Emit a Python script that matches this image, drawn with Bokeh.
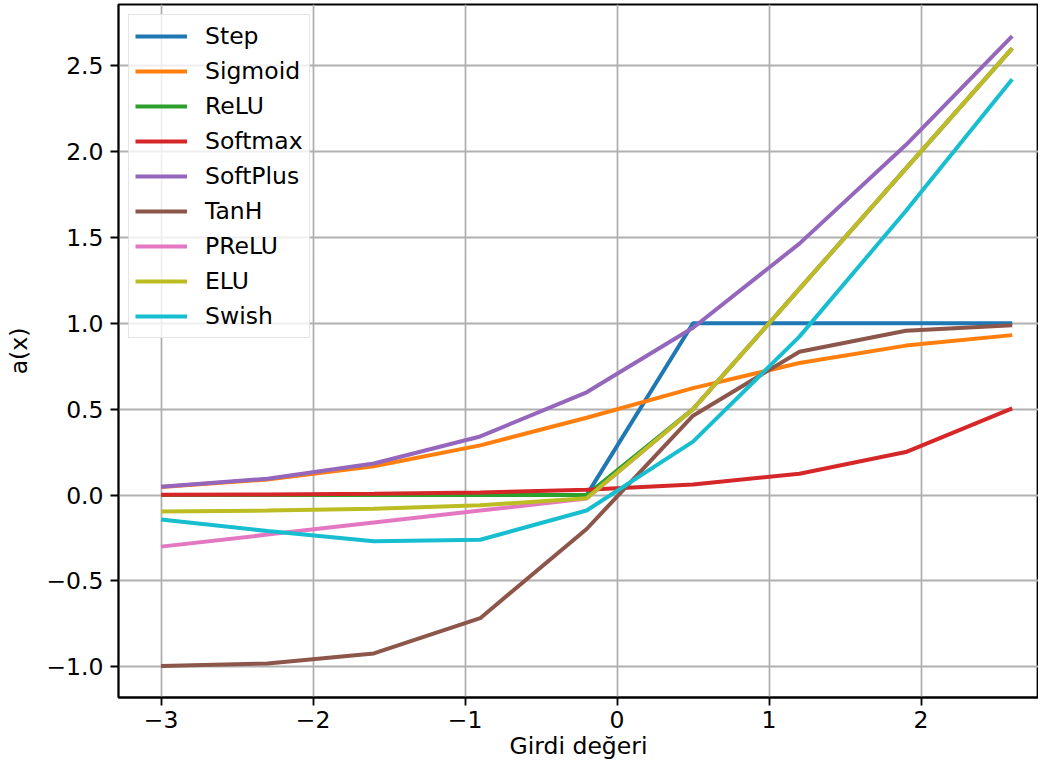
from bokeh.plotting import figure
from bokeh.models import FixedTicker, CustomJSTickFormatter, Range1d, Legend, LegendItem
from bokeh.embed import file_html
from bokeh.resources import INLINE

x = [-3.0, -2.3, -1.6, -0.9, -0.2, 0.5, 1.2, 1.9, 2.6]
step = [0, 0, 0, 0, 0, 1, 1, 1, 1]
sigmoid = [0.0474, 0.0911, 0.1680, 0.2891, 0.4502, 0.6225, 0.7685, 0.8699, 0.9309]
relu = [0, 0, 0, 0, 0, 0.5, 1.2, 1.9, 2.6]
softmax = [0.0019, 0.0038, 0.0076, 0.0152, 0.0307, 0.0618, 0.1244, 0.2504, 0.5043]
softplus = [0.0486, 0.0956, 0.1839, 0.3412, 0.5981, 0.9741, 1.4633, 2.0369, 2.6714]
tanh = [-0.9951, -0.9801, -0.9217, -0.7163, -0.1974, 0.4621, 0.8337, 0.9562, 0.9890]
prelu = [-0.30, -0.23, -0.16, -0.09, -0.02, 0.5, 1.2, 1.9, 2.6]
elu = [-0.0950, -0.0900, -0.0798, -0.0593, -0.0181, 0.5, 1.2, 1.9, 2.6]
swish = [-0.1423, -0.2095, -0.2688, -0.2602, -0.0900, 0.3112, 0.9222, 1.6528, 2.4203]

names = ["Step", "Sigmoid", "ReLU", "Softmax", "SoftPlus", "TanH", "PReLU", "ELU", "Swish"]
series = [step, sigmoid, relu, softmax, softplus, tanh, prelu, elu, swish]
colors = ["#1f77b4", "#ff7f0e", "#2ca02c", "#d62728", "#9467bd",
          "#8c564b", "#e377c2", "#bcbd22", "#17becf"]

x_ticks = [-3, -2, -1, 0, 1, 2]
y_ticks = [-1.0, -0.5, 0.0, 0.5, 1.0, 1.5, 2.0, 2.5]

FS = "23.5px"
FONT = "DejaVu Sans"

p = figure(width=1038, height=762, output_backend="svg", toolbar_location=None,
           x_range=Range1d(-3.28, 2.773), y_range=Range1d(-1.178, 2.855),
           min_border_left=118, min_border_right=0, min_border_top=4, min_border_bottom=64)

items = []
for name, ys, c in zip(names, series, colors):
    r = p.line(x, ys, line_color=c, line_width=4)
    items.append(LegendItem(label=name, renderers=[r]))

legend = Legend(items=items, location="top_left")
legend.margin = 10
legend.padding = 6
legend.spacing = 5
legend.glyph_width = 52
legend.glyph_height = 30
legend.label_height = 30
legend.label_standoff = 18
legend.label_text_font = FONT
legend.label_text_font_size = FS
legend.label_text_color = "black"
legend.border_line_color = "#cccccc"
legend.border_line_width = 1.5
legend.background_fill_alpha = 0.8
p.add_layout(legend)

p.xaxis.ticker = FixedTicker(ticks=x_ticks)
p.yaxis.ticker = FixedTicker(ticks=y_ticks)
p.xaxis.formatter = CustomJSTickFormatter(code="return tick.toFixed(0).replace('-', '\u2212');")
p.yaxis.formatter = CustomJSTickFormatter(code="return tick.toFixed(1).replace('-', '\u2212');")

for ax in (p.xaxis, p.yaxis):
    ax.major_label_text_font = FONT
    ax.major_label_text_font_size = FS
    ax.major_label_text_color = "black"
    ax.axis_label_text_font = FONT
    ax.axis_label_text_font_size = FS
    ax.axis_label_text_font_style = "normal"
    ax.axis_label_text_color = "black"
    ax.axis_line_color = "black"
    ax.axis_line_width = 1.8
    ax.major_tick_line_color = "black"
    ax.major_tick_line_width = 1.8
    ax.major_tick_out = 8
    ax.major_tick_in = 0
    ax.minor_tick_line_color = None

p.xaxis.major_label_standoff = 5
p.yaxis.major_label_standoff = 7
p.xaxis.axis_label = "Girdi değeri"
p.yaxis.axis_label = "a(x)"
p.xaxis.axis_label_standoff = 1
p.yaxis.axis_label_standoff = 10

p.xgrid.grid_line_color = "#b0b0b0"
p.ygrid.grid_line_color = "#b0b0b0"
p.xgrid.grid_line_width = 1.8
p.ygrid.grid_line_width = 1.8
p.outline_line_color = "black"
p.outline_line_width = 1.8
p.outline_line_alpha = 1.0

open("out.html", "w").write(file_html(p, INLINE))
